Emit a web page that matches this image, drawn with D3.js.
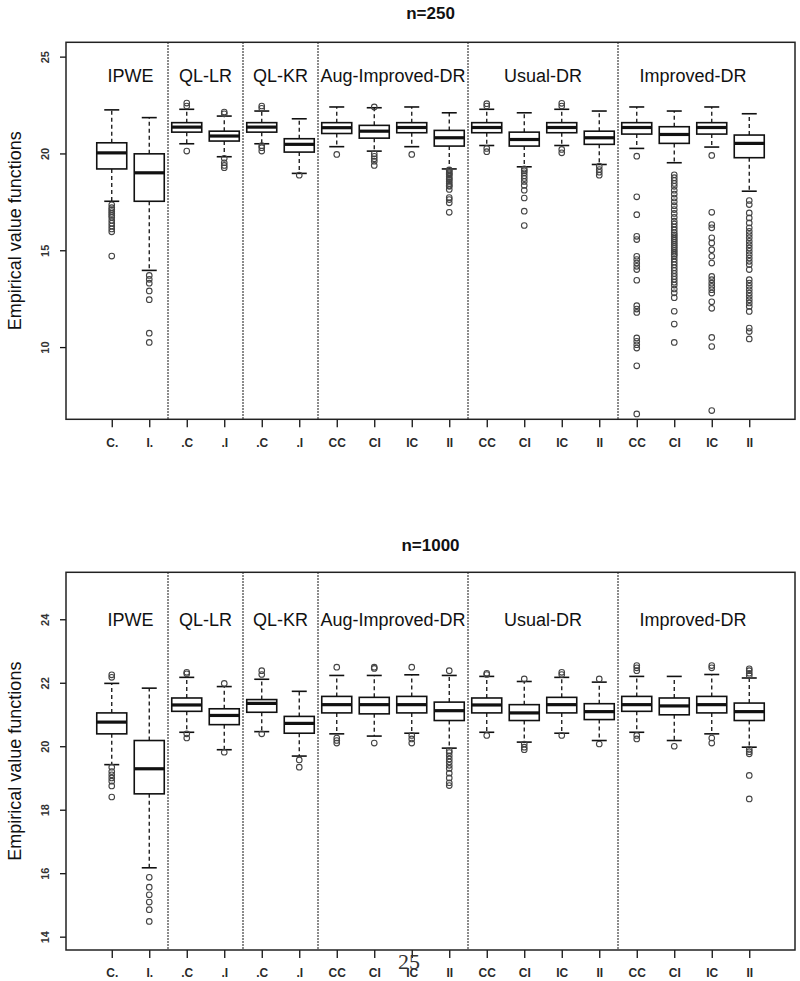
<!DOCTYPE html>
<html><head><meta charset="utf-8">
<script src="https://cdn.jsdelivr.net/npm/d3@7"></script>
<style>body{margin:0;background:#fff}svg{display:block}</style>
</head><body>
<svg id="c" width="800" height="981"></svg>
<script>
const methods = ["IPWE","QL-LR","QL-KR","Aug-Improved-DR","Usual-DR","Improved-DR"];
const boxLabels = ["C.","I.",".C",".I",".C",".I","CC","CI","IC","II","CC","CI","IC","II","CC","CI","IC","II"];
const groupOf = [0,0,1,1,2,2,3,3,3,3,4,4,4,4,5,5,5,5];
const yLabel = "Empirical value functions";
const titles = ["n=250","n=1000"];
const ticksTop = [10,15,20,25];
const ticksBottom = [14,16,18,20,22,24];

// n = 250
const lo250  = [17.53,13.96,20.50,19.83,20.50,18.97,20.35,20.12,20.35,19.20,20.41,19.31,20.41,19.43,20.26,19.52,20.33,18.05];
const q1_250 = [19.20,17.53,21.10,20.64,21.10,20.07,21.03,20.79,21.07,20.38,21.07,20.38,21.07,20.47,21.00,20.52,21.00,19.78];
const med250 = [20.03,19.00,21.36,20.90,21.36,20.47,21.33,21.15,21.34,20.81,21.34,20.72,21.34,20.81,21.34,20.98,21.34,20.52];
const q3_250 = [20.55,19.98,21.59,21.15,21.59,20.76,21.59,21.45,21.59,21.19,21.59,21.10,21.59,21.15,21.59,21.38,21.59,20.95];
const hi250  = [22.25,21.85,22.28,21.93,22.19,21.79,22.40,22.36,22.40,22.10,22.28,22.10,22.28,22.19,22.40,22.19,22.40,22.05];
const out250 = [
  [17.35,17.2,17.1,17.0,16.9,16.8,16.7,16.55,16.4,16.25,16.1,15.95,14.7],
  [13.7,13.5,13.3,12.9,12.45,10.72,10.24],
  [22.6,22.45,20.12],
  [22.14,22.05,19.75,19.52,19.38,19.26],
  [22.45,22.33,20.4,20.3,20.12],
  [18.88],
  [19.95],
  [22.4,19.98,19.85,19.72,19.6,19.38],
  [19.95],
  [19.15,19.1,19.0,18.95,18.9,18.8,18.7,18.65,18.55,18.45,18.35,18.3,18.14,17.72,17.62,17.45,16.96],
  [22.57,22.45,20.26,20.09],
  [19.2,19.1,19.0,18.85,18.7,18.55,18.35,18.1,17.7,17.02,16.28],
  [22.59,22.45,20.21,20.03],
  [19.34,19.17,19.03,18.88],
  [19.86,17.76,16.84,15.72,15.55,14.69,14.52,14.34,14.17,14.0,13.45,12.14,11.96,11.79,10.47,10.3,10.12,9.95,9.03,6.55],
  [18.9,18.75,18.6,18.45,18.3,18.1,17.9,17.7,17.5,17.3,17.1,16.9,16.7,16.5,16.35,16.2,16.05,15.9,15.8,15.7,15.6,15.5,15.4,15.3,15.2,15.1,15.0,14.9,14.8,14.7,14.55,14.4,14.25,14.1,13.95,13.8,13.65,13.5,13.35,13.2,13.0,12.8,12.55,11.85,11.19,10.24],
  [19.9,16.96,16.33,16.16,15.64,15.38,15.03,14.69,14.34,13.65,13.48,13.3,13.13,12.96,12.79,12.34,12.0,10.5,10.03,6.72],
  [17.57,17.36,16.93,16.67,16.41,16.16,15.98,15.81,15.64,15.46,15.29,15.12,14.95,14.77,14.6,14.43,14.26,14.0,13.48,13.31,13.14,12.96,12.79,12.62,12.45,12.28,12.1,11.84,10.98,10.8,10.42]
];

// n = 1000
const lo1000  = [19.42,16.17,20.44,19.89,20.46,19.69,20.39,20.32,20.41,19.94,20.44,20.13,20.41,20.18,20.44,20.18,20.39,19.97];
const q1_1000 = [20.39,18.50,21.10,20.68,21.07,20.41,21.05,21.02,21.05,20.81,21.05,20.81,21.05,20.84,21.10,20.99,21.05,20.81];
const med1000 = [20.76,19.29,21.30,20.97,21.35,20.72,21.31,21.31,21.31,21.12,21.30,21.05,21.31,21.09,21.31,21.27,21.31,21.09];
const q3_1000 = [21.05,20.18,21.52,21.18,21.47,20.94,21.57,21.54,21.57,21.39,21.52,21.31,21.54,21.34,21.57,21.52,21.57,21.36];
const hi1000  = [21.98,21.83,22.17,21.88,22.11,21.73,22.23,22.23,22.25,22.23,22.20,22.04,22.17,22.02,22.20,22.20,22.26,22.15];
const out1000 = [
  [22.25,22.17,19.34,19.2,19.1,19.0,18.9,18.75,18.4],
  [15.87,15.56,15.32,15.09,14.85,14.48],
  [22.33,22.28,20.39,20.26],
  [21.98,19.81],
  [22.38,22.26,20.39],
  [19.57,19.34],
  [22.49,20.26,20.18,20.1],
  [22.49,22.45,20.1],
  [22.49,20.34,20.23,20.1],
  [22.38,19.86,19.8,19.7,19.6,19.5,19.4,19.3,19.15,19.0,18.85,18.76],
  [22.3,22.26,20.34],
  [22.12,20.07,19.97,19.89],
  [22.33,22.26,20.34],
  [22.12,20.07],
  [22.54,22.47,22.38,20.34,20.23],
  [20.0],
  [22.54,22.47,20.26,20.1],
  [22.44,22.38,22.3,22.23,19.9,19.83,19.76,19.08,18.34]
];

const panels = [
  {title: titles[0], lo: lo250, q1: q1_250, med: med250, q3: q3_250, hi: hi250, out: out250,
   ticks: ticksTop, ydom: [6.27, 25.74], top: 42.3, bottom: 419.3, titleY: 19.3, xlabY: 447},
  {title: titles[1], lo: lo1000, q1: q1_1000, med: med1000, q3: q3_1000, hi: hi1000, out: out1000,
   ticks: ticksBottom, ydom: [13.58, 25.48], top: 572.3, bottom: 950, titleY: 550.7, xlabY: 976.5}
];

const svg = d3.select("#c");
const left = 66, right = 795;
const n = boxLabels.length;
const x = d3.scaleLinear().domain([0.5 - 0.04*n, n + 0.5 + 0.04*n]).range([left, right]);
const bw = (x(1) - x(0)) * 0.4;
const sw = bw * 0.5;
const font = "'Liberation Sans', Arial, Helvetica, sans-serif";

const bounds = [];
for (let i = 1; i < n; i++) if (groupOf[i] !== groupOf[i-1]) bounds.push(i + 0.5);
const centers = methods.map((m, g) => d3.mean(d3.range(n).filter(i => groupOf[i] === g), i => i + 1));

panels.forEach(p => {
  const y = d3.scaleLinear().domain(p.ydom).range([p.bottom, p.top]);
  const g = svg.append("g");

  g.append("text").attr("x", (left + right) / 2).attr("y", p.titleY)
    .attr("text-anchor", "middle").attr("font-family", font).attr("font-weight", "bold")
    .attr("font-size", 17).attr("fill", "#111").text(p.title);

  g.selectAll("line.sep").data(bounds).join("line")
    .attr("x1", d => x(d)).attr("x2", d => x(d)).attr("y1", p.top).attr("y2", p.bottom)
    .attr("stroke", "#111").attr("stroke-width", 1.3).attr("stroke-dasharray", "1.5,1.5");

  g.selectAll("text.grp").data(methods).join("text")
    .attr("x", (d, i) => x(centers[i])).attr("y", y(24))
    .attr("dy", "0.36em")
    .attr("text-anchor", "middle").attr("font-family", font).attr("font-size", 18)
    .attr("fill", "#111").text(d => d);

  const ya = d3.axisLeft(y).tickValues(p.ticks).tickSize(6).tickFormat(d3.format("d"));
  const yg = g.append("g").attr("transform", `translate(${left},0)`).call(ya);
  yg.select(".domain").remove();
  yg.selectAll(".tick line").attr("stroke", "#111").attr("stroke-width", 1.3);
  yg.selectAll(".tick text").attr("font-family", font).attr("font-size", 11).attr("fill", "#333")
    .attr("font-weight", "bold")
    .attr("x", null).attr("dy", null).attr("text-anchor", "middle")
    .attr("transform", "translate(-21,0) rotate(-90)").attr("dominant-baseline", "central");

  const xa = d3.axisBottom(x).tickValues(d3.range(1, n + 1)).tickSize(8).tickFormat(d => boxLabels[d - 1]);
  const xg = g.append("g").attr("transform", `translate(0,${p.bottom})`).call(xa);
  xg.select(".domain").remove();
  xg.selectAll(".tick line").attr("stroke", "#111").attr("stroke-width", 1.3);
  xg.selectAll(".tick text").attr("font-family", font).attr("font-size", 12).attr("font-weight", "bold")
    .attr("fill", "#2a2a2a").attr("y", p.xlabY - p.bottom).attr("dy", null);

  g.append("text").attr("transform", `translate(20.5,${(p.top + p.bottom) / 2}) rotate(-90)`)
    .attr("text-anchor", "middle").attr("font-family", font).attr("font-size", 18)
    .attr("fill", "#111").text(yLabel);

  const bx = g.append("g");
  d3.range(n).forEach(i => {
    const cx = x(i + 1);
    bx.append("line").attr("x1", cx).attr("x2", cx).attr("y1", y(p.q3[i])).attr("y2", y(p.hi[i]))
      .attr("stroke", "#111").attr("stroke-width", 1.3).attr("stroke-dasharray", "4,3");
    bx.append("line").attr("x1", cx).attr("x2", cx).attr("y1", y(p.q1[i])).attr("y2", y(p.lo[i]))
      .attr("stroke", "#111").attr("stroke-width", 1.3).attr("stroke-dasharray", "4,3");
    [p.hi[i], p.lo[i]].forEach(v => {
      bx.append("line").attr("x1", cx - sw).attr("x2", cx + sw).attr("y1", y(v)).attr("y2", y(v))
        .attr("stroke", "#111").attr("stroke-width", 1.6);
    });
    bx.append("rect").attr("x", cx - bw).attr("width", 2 * bw)
      .attr("y", y(p.q3[i])).attr("height", y(p.q1[i]) - y(p.q3[i]))
      .attr("fill", "#fff").attr("stroke", "#111").attr("stroke-width", 1.6);
    bx.append("line").attr("x1", cx - bw).attr("x2", cx + bw).attr("y1", y(p.med[i])).attr("y2", y(p.med[i]))
      .attr("stroke", "#111").attr("stroke-width", 3.2);
    bx.selectAll(null).data(p.out[i]).join("circle")
      .attr("cx", cx).attr("cy", d => y(d)).attr("r", 2.8)
      .attr("fill", "none").attr("stroke", "#444").attr("stroke-width", 1.1);
  });

  g.append("rect").attr("x", left).attr("y", p.top).attr("width", right - left).attr("height", p.bottom - p.top)
    .attr("fill", "none").attr("stroke", "#222").attr("stroke-width", 1.5);
});

// page number (overlaps the axis labels as in the source image)
svg.append("text").attr("x", 409).attr("y", 969).attr("text-anchor", "middle")
  .attr("font-family", "'Liberation Serif', 'DejaVu Serif', serif").attr("font-size", 22)
  .attr("fill", "#333").text("25");
</script>
</body></html>
